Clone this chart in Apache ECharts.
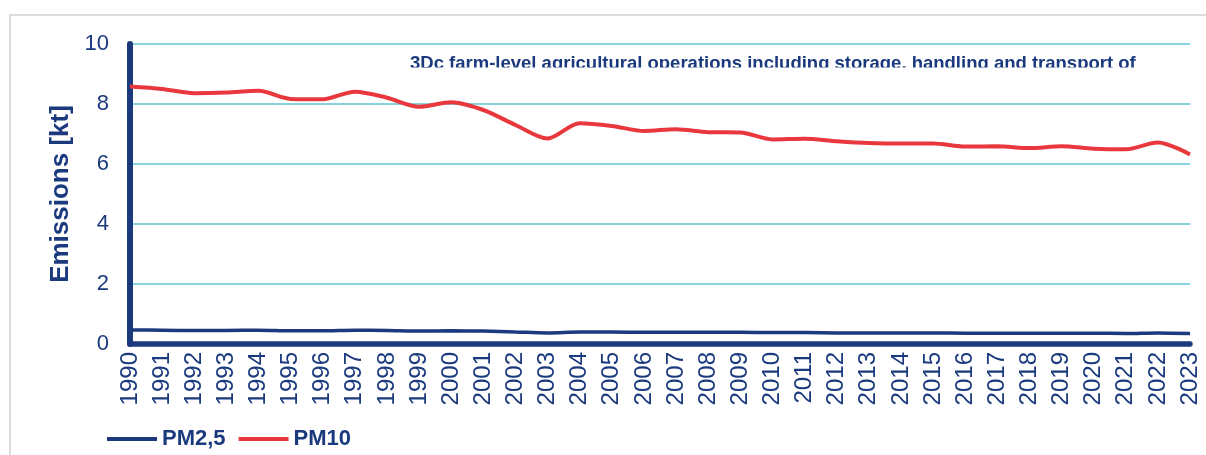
<!DOCTYPE html>
<html>
<head>
<meta charset="utf-8">
<script src="https://cdn.jsdelivr.net/npm/echarts@6/dist/echarts.min.js"></script>
<style>
  html, body { margin: 0; padding: 0; background: #ffffff; overflow: hidden; }
  #chart { width: 1206px; height: 455px; }
</style>
</head>
<body>
<div id="chart"></div>
<script>
// Emission time series, kt
const years = ['1990','1991','1992','1993','1994','1995','1996','1997','1998','1999',
  '2000','2001','2002','2003','2004','2005','2006','2007','2008','2009',
  '2010','2011','2012','2013','2014','2015','2016','2017','2018','2019',
  '2020','2021','2022','2023'];

const pm25 = [0.47, 0.46, 0.45, 0.45, 0.46, 0.44, 0.44, 0.46, 0.45, 0.43,
  0.44, 0.43, 0.40, 0.37, 0.40, 0.40, 0.39, 0.39, 0.39, 0.39,
  0.38, 0.38, 0.37, 0.37, 0.37, 0.37, 0.36, 0.36, 0.36, 0.36,
  0.36, 0.35, 0.37, 0.35];

const pm10 = [8.58, 8.50, 8.36, 8.38, 8.44, 8.17, 8.16, 8.41, 8.21, 7.91,
  8.06, 7.80, 7.30, 6.85, 7.36, 7.27, 7.10, 7.16, 7.06, 7.05,
  6.82, 6.84, 6.76, 6.70, 6.68, 6.68, 6.58, 6.59, 6.53, 6.59,
  6.51, 6.49, 6.72, 6.32];

const yTicks = { min: 0, max: 10, interval: 2 };

const titleText = '3Dc farm-level agricultural operations including storage, handling and transport of';

const NAVY = '#1B3A7E';
const RED = '#E8383D';
const GRID = '#5CC6D6';
const FONT = '"Liberation Sans", Arial, sans-serif';

const chart = echarts.init(document.getElementById('chart'));

chart.setOption({
  animation: false,
  backgroundColor: '#ffffff',
  title: {
    text: titleText,
    left: 410,
    top: 54,
    padding: 0,
    textStyle: { color: NAVY, fontFamily: FONT, fontWeight: 'bold', fontSize: 18.5 }
  },
  graphic: [
    {
      // outer frame
      type: 'rect',
      z: -10,
      shape: { x: 10, y: 15, width: 1400, height: 600 },
      style: { fill: 'none', stroke: '#DCDCDC', lineWidth: 2 }
    },
    {
      // the title box cuts the text at its baseline
      type: 'rect',
      z: 100,
      shape: { x: 400, y: 67.5, width: 790, height: 15 },
      style: { fill: '#ffffff' }
    }
  ],
  legend: {
    left: 107,
    top: 428,
    padding: 0,
    itemWidth: 50,
    itemHeight: 4,
    itemGap: 13,
    textStyle: { color: NAVY, fontFamily: FONT, fontWeight: 'bold', fontSize: 22, padding: [0, 0, 0, 0] },
    data: [
      { name: 'PM2,5', icon: 'rect' },
      { name: 'PM10', icon: 'rect' }
    ]
  },
  grid: { left: 130, right: 16, top: 44, bottom: 111, containLabel: false },
  xAxis: {
    type: 'category',
    data: years,
    boundaryGap: false,
    axisLine: { show: true, lineStyle: { color: NAVY, width: 5.5 } },
    axisTick: { show: false },
    splitLine: { show: false },
    axisLabel: {
      interval: 0,
      rotate: 90,
      margin: 8,
      color: NAVY,
      fontFamily: FONT,
      fontSize: 24
    }
  },
  yAxis: {
    type: 'value',
    min: yTicks.min,
    max: yTicks.max,
    interval: yTicks.interval,
    name: 'Emissions [kt]',
    nameLocation: 'middle',
    nameGap: 55,
    nameRotate: 90,
    nameTextStyle: { color: NAVY, fontFamily: FONT, fontWeight: 'bold', fontSize: 26 },
    axisLine: { show: true, lineStyle: { color: NAVY, width: 6 } },
    axisTick: { show: false },
    splitLine: { show: true, lineStyle: { color: GRID, width: 1.5 } },
    axisLabel: {
      margin: 21,
      color: NAVY,
      fontFamily: FONT,
      fontSize: 22
    }
  },
  series: [
    {
      name: 'PM2,5',
      type: 'line',
      data: pm25,
      smooth: 0.3,
      showSymbol: false,
      color: NAVY,
      lineStyle: { color: NAVY, width: 3.5 },
      z: 3
    },
    {
      name: 'PM10',
      type: 'line',
      data: pm10,
      smooth: 0.3,
      showSymbol: false,
      color: RED,
      lineStyle: { color: RED, width: 4 },
      z: 4
    }
  ]
});
</script>
</body>
</html>
